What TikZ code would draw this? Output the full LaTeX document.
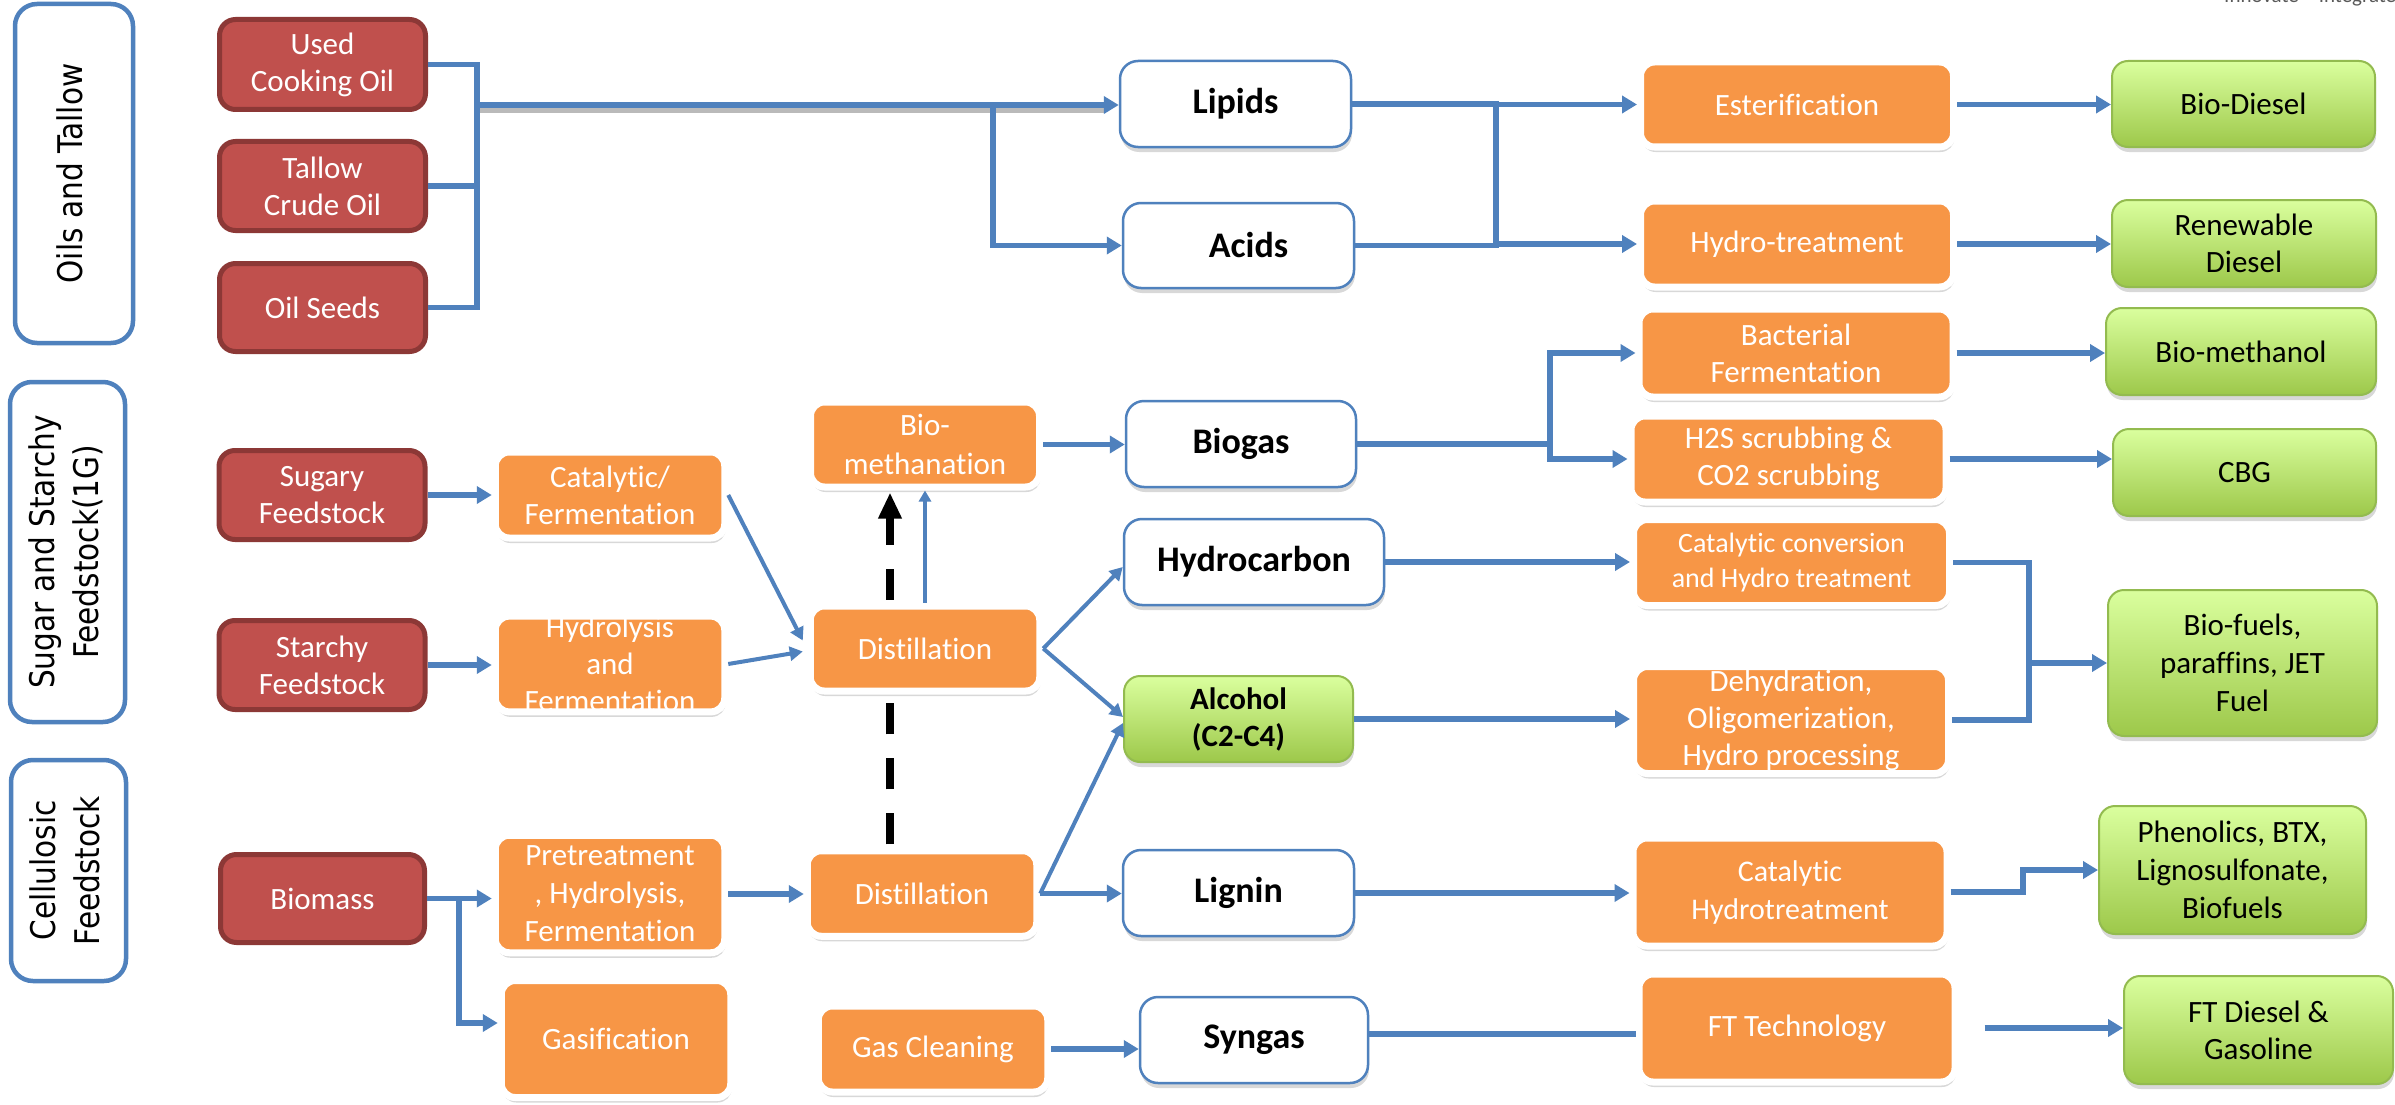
\documentclass[tikz,border=0pt]{standalone}
\usepackage{fontspec}
\setmainfont{Carlito}[Ligatures=NoCommon]
\newfontfamily\catfont{DejaVu Sans}
\usetikzlibrary{shadows,arrows.meta,calc}
\definecolor{lnblue}{HTML}{4F81BD}
\definecolor{srcred}{HTML}{C0504D}
\definecolor{srcdark}{HTML}{8C3836}
\definecolor{procor}{HTML}{F79646}
\definecolor{grntop}{HTML}{DAFF9E}
\definecolor{grnbot}{HTML}{9DC84A}
\definecolor{grnedge}{HTML}{93BB4F}
\definecolor{tagray}{HTML}{595959}
\newcommand\fsz[2]{\fontsize{#1}{#2}\selectfont}
\newcommand\catlabel[1]{\catfont\fsz{34}{44}\scalebox{0.87}[1]{\begin{tabular}{@{}c@{}}#1\end{tabular}}}
\begin{document}
\begin{tikzpicture}[x=1pt,y=-1pt,
 sz/.style 2 args={minimum width=#1pt,minimum height=#2pt},
 base/.style={rectangle,inner sep=0pt,align=center,font=\fsz{31}{37}},
 shad/.style={drop shadow={shadow xshift=1pt,shadow yshift=-5pt,opacity=0.3}},
 catbox/.style={base,draw=lnblue,line width=4.5pt,fill=white,rounded corners=22pt,rotate=90},
 srcbox/.style={base,draw=srcdark,fill=srcred,line width=5pt,rounded corners=16pt,text=white},
 procbox/.style={base,shad,draw=white,line width=7pt,fill=procor,rounded corners=14pt,text=white},
 prodbox/.style={base,shad,draw=lnblue,line width=2.5pt,fill=white,rounded corners=18pt,font=\fsz{36}{43}\bfseries},
 greenbox/.style={base,shad,draw=grnedge,line width=2pt,top color=grntop,bottom color=grnbot,rounded corners=16pt},
 conn/.style={draw=lnblue,line width=5.5pt},
 arr/.style={conn,-{Triangle[length=15pt,width=17pt]}},
 thinarr/.style={draw=lnblue,line width=4pt,-{Triangle[length=13pt,width=14pt]}},
 dashline/.style={draw=black,line width=8pt,dash pattern=on 31pt off 24pt},
]
\fill[white] (0,0) rectangle (2395,1105);
\useasboundingbox (0,0) rectangle (2395,1105);

\node[anchor=base west,text=tagray,font=\fsz{21}{25},inner sep=0pt] (tag) at (2224,3) {Innovate • Integrate};

% category boxes
\node[catbox,sz={339}{118}] (catOil) at (74,173.5) {\catlabel{Oils and Tallow}};
\node[catbox,sz={340}{115}] (catSugar) at (67.5,552) {\catlabel{Sugar and Starchy\\Feedstock(1G)}};
\node[catbox,sz={221}{115}] (catCell) at (68.5,870.5) {\catlabel{Cellulosic\\Feedstock}};

% sources
\node[srcbox,sz={206}{90}] (uco) at (322.5,64.5) {Used\\Cooking Oil};
\node[srcbox,sz={206}{89}] (tallow) at (322.5,186) {Tallow\\Crude Oil};
\node[srcbox,sz={206}{88}] (seeds) at (322.5,307.5) {Oil Seeds};
\node[srcbox,sz={206}{89}] (sugary) at (322,495) {Sugary\\Feedstock};
\node[srcbox,sz={206}{89}] (starchy) at (322,665) {Starchy\\Feedstock};
\node[srcbox,sz={204}{88}] (biomass) at (322.5,898.5) {Biomass};

% intermediates (white)
\node[prodbox,sz={231}{86}] (lipids) at (1235.5,104) {Lipids};
\node[prodbox,sz={231}{85}] (acids) at (1238.5,245.5) {\hspace*{20pt}Acids};
\node[prodbox,sz={230}{86}] (biogas) at (1241,444) {Biogas};
\node[prodbox,sz={260}{86}] (hydrocarbon) at (1254,562) {Hydrocarbon};
\node[prodbox,sz={231}{86}] (lignin) at (1238.5,893) {Lignin};
\node[prodbox,sz={228}{86}] (syngas) at (1254,1040) {Syngas};

% processes (orange)
\node[procbox,sz={313}{85}] (ester) at (1797,104.5) {Esterification};
\node[procbox,sz={313}{86}] (hydrot) at (1797,244) {Hydro-treatment};
\node[procbox,sz={314}{88}] (bact) at (1796,353) {Bacterial\\Fermentation};
\node[procbox,sz={315}{86}] (h2s) at (1788.5,459) {H2S scrubbing \&\\CO2 scrubbing};
\node[procbox,sz={316}{86},font=\fsz{28}{35}] (catconv) at (1791.5,562.5) {Catalytic conversion\\and Hydro treatment};
\node[procbox,sz={315}{107}] (dehyd) at (1791,720) {Dehydration,\\Oligomerization,\\Hydro processing};
\node[procbox,sz={314}{108},font=\fsz{30}{38}] (cathydro) at (1790,892) {Catalytic\\Hydrotreatment};
\node[procbox,sz={316}{108}] (ft) at (1797,1028) {FT Technology};
\node[procbox,sz={229.5}{86}] (catferm) at (610,495) {Catalytic/\\Fermentation};
\node[procbox,sz={229.5}{95}] (hydrolysis) at (610,664) {Hydrolysis\\and\\Fermentation};
\node[procbox,sz={229.5}{117.5},font=\fsz{31}{38}] (pretreat) at (610,894) {Pretreatment\\, Hydrolysis,\\Fermentation};
\node[procbox,sz={229.5}{117}] (gasif) at (616,1039) {Gasification};
\node[procbox,sz={229}{85},font=\fsz{31}{39}] (biometh) at (925,444.5) {Bio-\\methanation};
\node[procbox,sz={229.5}{85}] (dist1) at (925,648.5) {Distillation};
\node[procbox,sz={229.5}{85.5}] (dist2) at (922,893.5) {Distillation};
\node[procbox,sz={229.5}{86}] (gasclean) at (933,1049) {Gas Cleaning};

% products (green)
\node[greenbox,sz={263}{86}] (biodiesel) at (2243.5,104) {Bio-Diesel};
\node[greenbox,sz={264}{87}] (renew) at (2244,243.5) {Renewable\\Diesel};
\node[greenbox,sz={270}{87}] (biomethanol) at (2241,351.5) {Bio-methanol};
\node[greenbox,sz={263}{87}] (cbg) at (2244.5,472.5) {CBG};
\node[greenbox,sz={269}{146},font=\fsz{31}{38}] (biofuels) at (2242.5,663) {Bio-fuels,\\paraffins, JET\\Fuel};
\node[greenbox,sz={229}{86},font=\fsz{31}{37}\bfseries] (alcohol) at (1238.5,719) {Alcohol\\(C2-C4)};
\node[greenbox,sz={267}{128},font=\fsz{31}{38}] (phenolics) at (2232.5,870) {Phenolics, BTX,\\Lignosulfonate,\\Biofuels};
\node[greenbox,sz={269}{108}] (ftdiesel) at (2258.5,1030) {FT Diesel \&\\Gasoline};

% ---- connectors ----
\coordinate (obT) at (477,65);
\coordinate (obB) at (477,307);
\coordinate (obM) at (477,105);
\coordinate (la) at (993,105);
\coordinate (lr) at (1496,104);
\draw[line width=6pt,black!60,opacity=0.45] ($(obM)+(2,5)$) -- ($(obM -| lipids.west)+(-14,5)$);
\draw[conn] (uco.east) -- (uco.east -| obT) -- (seeds.east -| obB) -- (seeds.east);
\draw[conn] (tallow.east) -- (tallow.east -| obT);
\draw[arr,line width=6pt] (obM) -- (obM -| lipids.west);
\draw[arr] (la) |- (acids.west);
\draw[conn] (lipids.east) -- (lipids.east -| lr) |- (acids.east);
\draw[arr] (ester.west -| lr) -- (ester.west);
\draw[arr] (hydrot.west -| lr) -- (hydrot.west);
\draw[arr] (ester.east) -- (ester.east -| biodiesel.west);
\draw[arr] (hydrot.east) -- (hydrot.east -| renew.west);

\draw[arr] (sugary.east) -- (sugary.east -| catferm.west);
\draw[arr] (starchy.east) -- (starchy.east -| hydrolysis.west);
\draw[thinarr] (catferm.east) -- ($(dist1.west)+(-4,-8)$);
\draw[thinarr] (hydrolysis.east) -- ($(dist1.west)+(-4,3)$);
\draw[thinarr,line width=3.5pt,-{Triangle[length=11pt,width=12pt]}] (dist1.north) -- (biometh.south);
\draw[thinarr] (dist1.east) -- ($(hydrocarbon.west)+(0,5)$);
\draw[thinarr] (dist1.east) -- ($(alcohol.west)+(0,-2)$);
\draw[thinarr] (dist2.east) -- ($(alcohol.west)+(0,4)$);
\draw[arr] (dist2.east) -- (dist2.east -| lignin.west);
\draw[arr] (biometh.east) -- (biometh.east -| biogas.west);

\coordinate (bg) at (1550,444);
\draw[conn] (biogas.east) -- (biogas.east -| bg);
\draw[arr] (biogas.east -| bg) |- (bact.west);
\draw[arr] (biogas.east -| bg) |- (h2s.west);
\draw[arr] (bact.east) -- (bact.east -| biomethanol.west);
\draw[arr] (h2s.east) -- (h2s.east -| cbg.west);
\draw[arr] (hydrocarbon.east) -- (hydrocarbon.east -| catconv.west);
\draw[arr] (alcohol.east) -- (alcohol.east -| dehyd.west);
\coordinate (bf) at (2029,663);
\draw[conn] (catconv.east) -- (catconv.east -| bf) |- (dehyd.east);
\draw[arr] (biofuels.west -| bf) -- (biofuels.west);

\draw[arr] (biomass.east) -- (biomass.east -| pretreat.west);
\coordinate (bm) at (459,892);
\coordinate (gw) at ($(gasif.west)+(0,-16)$);
\draw[arr] (biomass.east -| bm) |- (gw);
\draw[arr] (pretreat.east) -- (pretreat.east -| dist2.west);
\draw[arr] (lignin.east) -- (lignin.east -| cathydro.west);
\coordinate (ph) at (2023,872);
\draw[arr] (cathydro.east) -- (cathydro.east -| ph) |- (phenolics.west);
\draw[arr] (gasclean.east) -- (gasclean.east -| syngas.west);
\coordinate (sg) at ($(syngas.east)+(0,-6)$);
\draw[conn] (sg) -- (sg -| ft.west);
\coordinate (fo) at ([xshift=26pt]ft.east);
\draw[arr] (fo) -- (fo -| ftdiesel.west);

% dashed black link
\coordinate (dx) at (890,0);
\coordinate (d2n) at (dist2.north -| dx);
\coordinate (d1s) at (dist1.south -| dx);
\coordinate (d1n) at (dist1.north -| dx);
\coordinate (bms) at (biometh.south -| dx);
\draw[dashline] ($(d2n)+(0,-3)$) -- ($(d1s)+(0,4)$);
\draw[dashline,-{Triangle[length=26pt,width=22pt]}] ($(d1n)+(0,-3)$) -- ($(bms)+(0,2)$);
\end{tikzpicture}
\end{document}
